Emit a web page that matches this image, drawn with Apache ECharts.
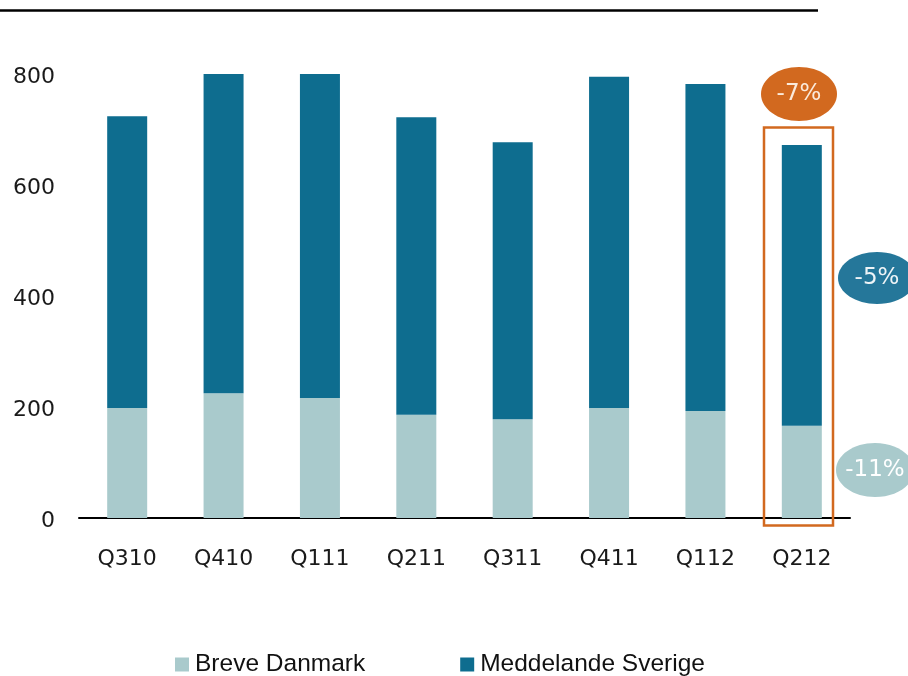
<!DOCTYPE html>
<html>
<head>
<meta charset="utf-8">
<style>
	html, body { margin: 0; padding: 0; background: #fff; }
	#chart { width: 908px; height: 676px; }
</style>
<script src="https://cdn.jsdelivr.net/npm/echarts@6/dist/echarts.min.js"></script>
</head>
<body>
<div id="chart"></div>
<script>
	// kvartaler og volumer
	var categories = ['Q310', 'Q410', 'Q111', 'Q211', 'Q311', 'Q411', 'Q112', 'Q212'];
	var breveDanmark = [198, 225, 216, 186, 178, 198, 193, 166];
	var meddelandeSverige = [526, 575, 584, 536, 499, 597, 589, 506];
	var yTicks = [0, 200, 400, 600, 800];
	var changeLabels = ['-7%', '-5%', '-11%'];

	var colorLight = '#a9cacc';
	var colorDark = '#0e6d8f';
	var colorOrange = '#d2691f';

	var chart = echarts.init(document.getElementById('chart'));
	var option = {
		backgroundColor: '#fff',
		animation: false,
		grid: {
			left: 79,
			right: 58,
			top: 74,
			bottom: 158
		},
		legend: {
			left: 175,
			top: 652,
			padding: 0,
			itemWidth: 14,
			itemHeight: 14,
			itemGap: 95,
			icon: 'rect',
			textStyle: {
				fontFamily: 'Liberation Sans, Arial',
				fontSize: 24.5,
				color: '#111',
				padding: [0, 0, 0, 1]
			},
			data: ['Breve Danmark', 'Meddelande Sverige']
		},
		xAxis: {
			type: 'category',
			data: categories,
			axisLine: {
				lineStyle: { color: '#000', width: 2 }
			},
			axisTick: { show: false },
			axisLabel: {
				margin: 30,
				fontFamily: 'DejaVu Sans',
				fontSize: 22,
				color: '#1a1a1a'
			}
		},
		yAxis: {
			type: 'value',
			min: yTicks[0],
			max: yTicks[yTicks.length - 1],
			interval: 200,
			axisLine: { show: false },
			axisTick: { show: false },
			splitLine: { show: false },
			axisLabel: {
				margin: 24,
				formatter: '{v|{value}}',
				rich: {
					v: {
						padding: [6, 0, 0, 0],
						fontFamily: 'DejaVu Sans',
						fontSize: 22,
						color: '#1a1a1a'
					}
				}
			}
		},
		series: [
			{
				name: 'Breve Danmark',
				type: 'bar',
				stack: 'total',
				barWidth: 40,
				itemStyle: { color: colorLight },
				data: breveDanmark
			},
			{
				name: 'Meddelande Sverige',
				type: 'bar',
				stack: 'total',
				barWidth: 40,
				itemStyle: { color: colorDark },
				data: meddelandeSverige
			}
		],
		graphic: [
			{
				type: 'line',
				shape: { x1: 0, y1: 10.5, x2: 818, y2: 10.5 },
				style: { stroke: '#000', lineWidth: 2.5 }
			},
			{
				type: 'rect',
				shape: { x: 764, y: 127.5, width: 69, height: 398 },
				style: { fill: null, stroke: colorOrange, lineWidth: 2.5 },
				z: 10
			},
			{
				type: 'ellipse',
				shape: { cx: 799, cy: 94, rx: 38, ry: 27 },
				style: { fill: colorOrange },
				textContent: {
					style: { text: changeLabels[0], fill: '#fbeadb', fontFamily: 'DejaVu Sans', fontSize: 23 }
				},
				textConfig: { position: 'inside' }
			},
			{
				type: 'ellipse',
				shape: { cx: 877, cy: 278, rx: 39, ry: 26 },
				style: { fill: '#25779a' },
				textContent: {
					style: { text: changeLabels[1], fill: '#eef4f7', fontFamily: 'DejaVu Sans', fontSize: 23 }
				},
				textConfig: { position: 'inside' }
			},
			{
				type: 'ellipse',
				shape: { cx: 875, cy: 470, rx: 39, ry: 27 },
				style: { fill: colorLight },
				textContent: {
					style: { text: changeLabels[2], fill: '#ffffff', fontFamily: 'DejaVu Sans', fontSize: 23 }
				},
				textConfig: { position: 'inside' }
			}
		]
	};
	chart.setOption(option);
</script>
</body>
</html>
